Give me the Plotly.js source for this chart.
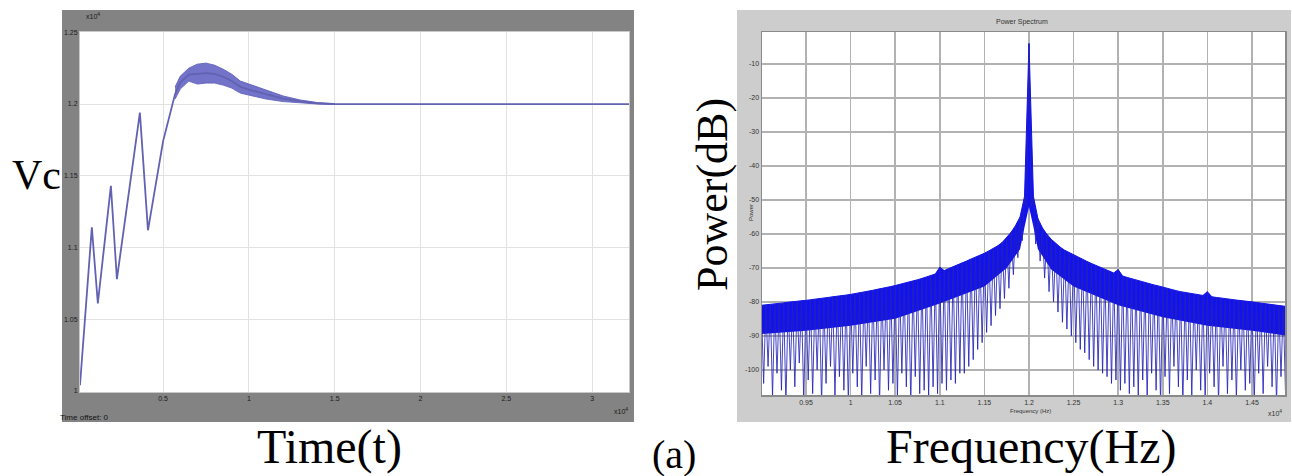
<!DOCTYPE html>
<html><head><meta charset="utf-8">
<script src="https://cdn.plot.ly/plotly-3.0.1.min.js"></script>
<style>html,body{margin:0;padding:0;background:#fff}#chart{width:1292px;height:476px}</style>
</head><body><div id="chart"></div>
<script>
// ---------- Left panel: Vc vs Time ----------
const timeMain = [0.016, 0.085, 0.12, 0.196, 0.231, 0.365, 0.412, 0.452, 0.5, 0.57, 0.6, 0.65, 0.7, 0.75, 0.8, 0.85, 0.9, 0.95, 1.0, 1.1, 1.2, 1.3, 1.4, 1.5, 3.215];
const vcMain   = [1.004, 1.114, 1.061, 1.143, 1.078, 1.194, 1.112, 1.1396, 1.174, 1.207, 1.215, 1.2205, 1.221, 1.2215, 1.221, 1.219, 1.216, 1.212, 1.210, 1.2066, 1.2037, 1.2018, 1.2005, 1.2, 1.2];
const timeBand    = [0.57, 0.6, 0.65, 0.7, 0.75, 0.8, 0.85, 0.9, 0.95, 1.0, 1.1, 1.2, 1.3, 1.4, 1.5];
const vcBandUpper = [1.2118, 1.2194, 1.225, 1.2278, 1.2285, 1.2271, 1.2243, 1.2208, 1.216, 1.2139, 1.2097, 1.2056, 1.2028, 1.201, 1.2003];
const vcBandLower = [1.2035, 1.2104, 1.216, 1.2139, 1.2146, 1.2146, 1.2132, 1.2111, 1.2076, 1.2063, 1.2035, 1.2017, 1.2007, 1.2, 1.1997];
const timeTicks = [0.5, 1, 1.5, 2, 2.5, 3];
const timeTickText = ['0.5', '1', '1.5', '2', '2.5', '3'];
const vcTicks = [1, 1.05, 1.1, 1.15, 1.2, 1.25];
const vcTickText = ['1', '1.05', '1.1', '1.15', '1.2', '1.25'];

// ---------- Right panel: Power spectrum ----------
const freqStart = 0.9;     // first lobe (x10^4 Hz)
const lobeStep = 0.005;    // lobe spacing (x10^4 Hz)
const lobeTop = [
 -81.0,-80.9,-80.7,-80.6,-80.4,-80.3,-80.1,-80.0,-79.8,-79.7,
 -79.5,-79.4,-79.2,-79.1,-78.9,-78.7,-78.5,-78.4,-78.2,-78.0,
 -77.8,-77.6,-77.3,-77.1,-76.8,-76.6,-76.3,-76.1,-75.8,-75.5,
 -75.2,-74.9,-74.6,-74.3,-73.9,-73.5,-73.1,-72.7,-72.3,-71.8,
 -69.8,-70.8,-70.2,-69.7,-69.1,-68.5,-68.0,-67.4,-66.9,-66.3,
 -65.7,-65.0,-64.3,-63.5,-62.5,-61.0,-59.5,-57.5,-55.0,-49.0,
 -4.0,
 -49.0,-55.5,-58.2,-60.1,-61.6,-62.9,-63.9,-64.8,-65.5,-66.1,
 -66.8,-67.5,-68.1,-68.7,-69.3,-69.9,-70.4,-70.9,-71.5,-70.5,
 -72.4,-72.8,-73.2,-73.6,-74.0,-74.3,-74.6,-75.0,-75.3,-75.7,
 -76.0,-76.4,-76.7,-77.0,-77.2,-77.5,-77.7,-77.9,-78.1,-77.0,
 -78.5,-78.7,-78.8,-79.0,-79.2,-79.4,-79.5,-79.7,-79.9,-80.0,
 -80.2,-80.4,-80.5,-80.7,-80.9,-81.0,-81.2,-81.4
];
const nullDepth = [
 -104,-99,-108,-101,-106,-110,-100,-105,-98,-109,
 -103,-107,-100,-110,-104,-99,-108,-102,-106,-110,
 -101,-105,-109,-99,-107,-103,-110,-100,-106,-104,
 -108,-101,-105,-110,-102,-107,
 -106,-108,-105,-107,-104,-106,-103,-104,-101,-101,-99,-97,-94,-92,-89,-87,-84,-82,-79,-76,-72,-67,-62,-52,
 -52,-63,-68,-73,-77,-80,-83,-86,-88,-90,
 -92,-94,-95,-97,-99,-100,-101,-102,-104,-103,
 -106,-104,-107,-105,-108,-103,-109,-101,-106,-110,
 -102,-107,-99,-105,-110,-103,-108,-100,-106,-109,
 -101,-105,-110,-99,-107,-103,-109,-100,-106,-104,
 -110,-101,-107,-99,-105,-110,-102,-106
];
const freqBand  = [0.9, 0.95, 1.0, 1.05, 1.1, 1.15, 1.175, 1.19, 1.195, 1.2, 1.205, 1.21, 1.225, 1.25, 1.3, 1.35, 1.4, 1.45, 1.49];
const bandFloor = [-89.5, -88.5, -87, -85, -80.5, -75.5, -70, -64.5, -58, -52, -58, -64.5, -70.5, -75.5, -81, -84.5, -87, -88.5, -90];
const freqTicks = [0.95, 1, 1.05, 1.1, 1.15, 1.2, 1.25, 1.3, 1.35, 1.4, 1.45];
const freqTickText = ['0.95', '1', '1.05', '1.1', '1.15', '1.2', '1.25', '1.3', '1.35', '1.4', '1.45'];
const powerTicks = [-10, -20, -30, -40, -50, -60, -70, -80, -90, -100];
const powerTickText = ['-10', '-20', '-30', '-40', '-50', '-60', '-70', '-80', '-90', '-100'];

// interleave lobe tops and nulls into one spectrum line
const spectrum = [];
for (let i = 0; i < lobeTop.length; i++) {
  spectrum.push(lobeTop[i]);
  if (i < nullDepth.length) spectrum.push(nullDepth[i]);
}

const W = 1292, H = 476;
const px = v => v / W, py = v => 1 - v / H;

const traces = [
  {x: timeBand, y: vcBandLower, type: 'scatter', mode: 'lines', xaxis: 'x', yaxis: 'y',
   line: {color: 'rgba(100,100,190,0.9)', width: 1}, hoverinfo: 'skip'},
  {x: timeBand, y: vcBandUpper, type: 'scatter', mode: 'lines', xaxis: 'x', yaxis: 'y', fill: 'tonexty',
   fillcolor: 'rgba(100,100,195,0.9)', line: {color: 'rgba(95,95,185,0.9)', width: 1}, hoverinfo: 'skip'},
  {x: timeMain, y: vcMain, type: 'scatter', mode: 'lines', xaxis: 'x', yaxis: 'y',
   line: {color: 'rgb(98,98,178)', width: 1.8}},
  {x: freqBand, y: bandFloor, type: 'scatter', mode: 'lines', xaxis: 'x2', yaxis: 'y2',
   line: {color: 'rgba(20,20,235,0.0)', width: 0}, hoverinfo: 'skip'},
  {x0: freqStart, dx: lobeStep, y: lobeTop, type: 'scatter', mode: 'lines', xaxis: 'x2', yaxis: 'y2', fill: 'tonexty',
   fillcolor: 'rgb(18,18,240)', line: {color: 'rgb(18,18,235)', width: 1}, hoverinfo: 'skip'},
  {x0: freqStart, dx: lobeStep / 2, y: spectrum, type: 'scatter', mode: 'lines', xaxis: 'x2', yaxis: 'y2',
   line: {color: 'rgba(35,35,185,0.85)', width: 1}}
];

const fontS = 'Liberation Sans, Arial, sans-serif';
const fontT = 'Liberation Serif, Times New Roman, serif';

const layout = {
  width: W, height: H,
  margin: {l: 0, r: 0, t: 0, b: 0},
  paper_bgcolor: '#ffffff', plot_bgcolor: '#ffffff',
  showlegend: false,
  xaxis: {domain: [px(80), px(629)], anchor: 'y', range: [0.016, 3.215],
    tickvals: timeTicks, ticktext: timeTickText, ticks: '', showgrid: true, gridcolor: '#e2e2e2', gridwidth: 1,
    zeroline: false, showline: true, linecolor: '#c8c8c8', linewidth: 1, mirror: true,
    tickfont: {family: fontS, size: 7, color: '#1a1a1a'}},
  yaxis: {domain: [py(392), py(32)], anchor: 'x', range: [0.9993, 1.2502],
    tickvals: vcTicks, ticktext: vcTickText, ticks: '', showgrid: true, gridcolor: '#e2e2e2', gridwidth: 1,
    zeroline: false, showline: true, linecolor: '#c8c8c8', linewidth: 1, mirror: true,
    tickfont: {family: fontS, size: 7, color: '#1a1a1a'}},
  xaxis2: {domain: [px(762), px(1285)], anchor: 'y2', range: [0.9007, 1.487],
    tickvals: freqTicks, ticktext: freqTickText, ticks: '', showgrid: true, gridcolor: '#b2b2b2', gridwidth: 1.5,
    zeroline: false, showline: true, linecolor: '#8a8a8a', linewidth: 1.5, mirror: true,
    tickfont: {family: fontS, size: 7, color: '#333'}},
  yaxis2: {domain: [py(395), py(32)], anchor: 'x2', range: [-107.4, -0.6],
    tickvals: powerTicks, ticktext: powerTickText, ticks: '', showgrid: true, gridcolor: '#b2b2b2', gridwidth: 1.5,
    zeroline: false, showline: true, linecolor: '#8a8a8a', linewidth: 1.5, mirror: true,
    tickfont: {family: fontS, size: 7, color: '#333'}},
  shapes: [
    {type: 'rect', xref: 'paper', yref: 'paper', x0: px(62), x1: px(634), y0: py(422), y1: py(10),
     fillcolor: '#838383', line: {width: 0}, layer: 'below'},
    {type: 'rect', xref: 'paper', yref: 'paper', x0: px(737), x1: px(1291), y0: py(422), y1: py(10),
     fillcolor: '#cdcdcd', line: {width: 0}, layer: 'below'},
    {type: 'rect', xref: 'x domain', yref: 'y domain', x0: 0, x1: 1, y0: 0, y1: 1,
     fillcolor: '#ffffff', line: {width: 0}, layer: 'below'},
    {type: 'rect', xref: 'x2 domain', yref: 'y2 domain', x0: 0, x1: 1, y0: 0, y1: 1,
     fillcolor: '#ffffff', line: {width: 0}, layer: 'below'}
  ],
  annotations: [
    {text: 'Vc', xref: 'paper', yref: 'paper', x: px(36), y: py(175), showarrow: false,
     xanchor: 'center', yanchor: 'middle', font: {family: fontT, size: 42, color: '#000'}},
    {text: 'Time(t)', xref: 'paper', yref: 'paper', x: px(329), y: py(447), showarrow: false,
     xanchor: 'center', yanchor: 'middle', font: {family: fontT, size: 48, color: '#000'}},
    {text: '(a)', xref: 'paper', yref: 'paper', x: px(674), y: py(454), showarrow: false,
     xanchor: 'center', yanchor: 'middle', font: {family: fontT, size: 40, color: '#000'}},
    {text: 'Power(dB)', xref: 'paper', yref: 'paper', x: px(712), y: py(195), showarrow: false, textangle: -90,
     xanchor: 'center', yanchor: 'middle', font: {family: fontT, size: 44, color: '#000'}},
    {text: 'Frequency(Hz)', xref: 'paper', yref: 'paper', x: px(1031), y: py(447), showarrow: false,
     xanchor: 'center', yanchor: 'middle', font: {family: fontT, size: 48, color: '#000'}},
    {text: 'Time offset: 0', xref: 'paper', yref: 'paper', x: px(58), y: py(417), showarrow: false,
     xanchor: 'left', yanchor: 'middle', font: {family: fontS, size: 8, color: '#111'}},
    {text: 'x10<sup>4</sup>', xref: 'paper', yref: 'paper', x: px(84), y: py(16), showarrow: false,
     xanchor: 'left', yanchor: 'middle', font: {family: fontS, size: 7, color: '#1a1a1a'}},
    {text: 'x10<sup>4</sup>', xref: 'paper', yref: 'paper', x: px(612), y: py(411), showarrow: false,
     xanchor: 'left', yanchor: 'middle', font: {family: fontS, size: 7, color: '#1a1a1a'}},
    {text: 'Power Spectrum', xref: 'paper', yref: 'paper', x: px(1022), y: py(22), showarrow: false,
     xanchor: 'center', yanchor: 'middle', font: {family: fontS, size: 7, color: '#333'}},
    {text: 'Frequency (Hz)', xref: 'paper', yref: 'paper', x: px(1030), y: py(411), showarrow: false,
     xanchor: 'center', yanchor: 'middle', font: {family: fontS, size: 6, color: '#333'}},
    {text: 'Power', xref: 'paper', yref: 'paper', x: px(751), y: py(213), showarrow: false, textangle: -90,
     xanchor: 'center', yanchor: 'middle', font: {family: fontS, size: 6, color: '#333'}},
    {text: 'x10<sup>4</sup>', xref: 'paper', yref: 'paper', x: px(1266), y: py(413), showarrow: false,
     xanchor: 'left', yanchor: 'middle', font: {family: fontS, size: 7, color: '#333'}}
  ]
};

Plotly.newPlot('chart', traces, layout, {displayModeBar: false, staticPlot: true});
</script>
</body></html>
